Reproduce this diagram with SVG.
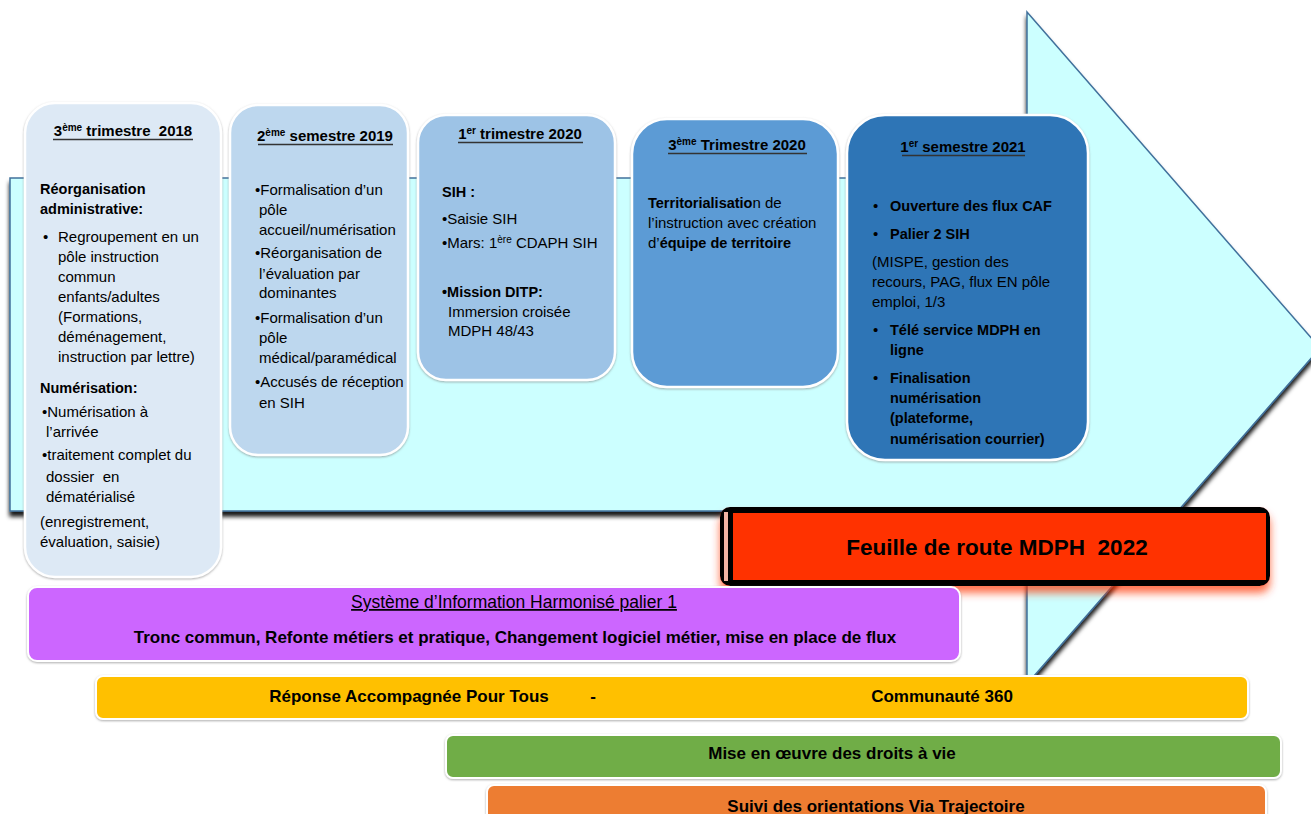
<svg xmlns="http://www.w3.org/2000/svg" width="1311" height="814" viewBox="0 0 1311 814">
<style>
text{font-family:"Liberation Sans",Arial,sans-serif;fill:#000}
.t{font-size:15px}
.b{font-size:14.5px;font-weight:bold}
.h{font-size:15px;font-weight:bold}
.sup{font-size:10px}
.ul{stroke:#333;stroke-width:1.5}
.box{stroke:#fff;stroke-width:2.5;filter:url(#soft)}
.bar{stroke:#fff;stroke-width:2;filter:url(#soft)}
.bt{font-size:17px;font-weight:bold}
</style>
<defs>
<filter id="arrowShadow" x="-5%" y="-5%" width="110%" height="115%">
<feDropShadow dx="0" dy="5" stdDeviation="2" flood-color="#000" flood-opacity="0.9"/>
</filter>
<filter id="soft" x="-10%" y="-10%" width="120%" height="120%">
<feDropShadow dx="0" dy="1" stdDeviation="1.2" flood-color="#777" flood-opacity="0.6"/>
</filter>
<filter id="redGlow" x="-10%" y="-30%" width="120%" height="170%">
<feDropShadow dx="0" dy="7" stdDeviation="4" flood-color="#ff3300" flood-opacity="0.7"/>
</filter>
</defs>

<g id="arrow">
<path d="M10,178 L1027,178 L1027,12 L1320,348 L1027,684 L1027,511 L10,511 Z" fill="#ccffff" stroke="#41719c" stroke-width="1.5" filter="url(#arrowShadow)"/>
</g>

<g id="box1">
<rect class="box" x="25" y="103" width="196" height="474" rx="30" fill="#dde9f5"/>
<text class="h" x="123" y="136" text-anchor="middle" xml:space="preserve">3<tspan class="sup" dy="-5">ème</tspan><tspan dy="5"> trimestre  2018</tspan></text>
<line class="ul" x1="53" y1="139.5" x2="193" y2="139.5"/>
<text class="b" x="40" y="194">Réorganisation</text>
<text class="b" x="40" y="214">administrative:</text>
<text class="t" x="43" y="242">•</text>
<text class="t" x="58" y="242">Regroupement en un</text>
<text class="t" x="58" y="262">pôle instruction</text>
<text class="t" x="58" y="282">commun</text>
<text class="t" x="58" y="302">enfants/adultes</text>
<text class="t" x="58" y="322">(Formations,</text>
<text class="t" x="58" y="342">déménagement,</text>
<text class="t" x="58" y="362">instruction par lettre)</text>
<text class="b" x="40" y="393">Numérisation:</text>
<text class="t" x="42" y="417">•Numérisation à</text>
<text class="t" x="46" y="437">l’arrivée</text>
<text class="t" x="42" y="460">•traitement complet du</text>
<text class="t" x="46" y="482" xml:space="preserve">dossier  en</text>
<text class="t" x="46" y="502">dématérialisé</text>
<text class="t" x="40" y="527">(enregistrement,</text>
<text class="t" x="40" y="547">évaluation, saisie)</text>
</g>

<g id="box2">
<rect class="box" x="230" y="105" width="178" height="350" rx="28" fill="#bdd7ee"/>
<text class="h" x="325" y="141" text-anchor="middle">2<tspan class="sup" dy="-5">ème</tspan><tspan dy="5"> semestre 2019</tspan></text>
<line class="ul" x1="258" y1="144.5" x2="393" y2="144.5"/>
<text class="t" x="255" y="195">•Formalisation d’un</text>
<text class="t" x="259" y="215">pôle</text>
<text class="t" x="259" y="235">accueil/numérisation</text>
<text class="t" x="255" y="258">•Réorganisation de</text>
<text class="t" x="259" y="279">l’évaluation par</text>
<text class="t" x="259" y="298">dominantes</text>
<text class="t" x="255" y="323">•Formalisation d’un</text>
<text class="t" x="259" y="343">pôle</text>
<text class="t" x="259" y="363">médical/paramédical</text>
<text class="t" x="255" y="387">•Accusés de réception</text>
<text class="t" x="259" y="408">en SIH</text>
</g>

<g id="box3">
<rect class="box" x="418" y="115" width="197" height="265" rx="28" fill="#9dc3e6"/>
<text class="h" x="520" y="139" text-anchor="middle">1<tspan class="sup" dy="-5">er</tspan><tspan dy="5"> trimestre 2020</tspan></text>
<line class="ul" x1="458" y1="142.5" x2="583" y2="142.5"/>
<text class="b" x="442" y="197">SIH :</text>
<text class="t" x="442" y="224">•Saisie SIH</text>
<text class="t" x="442" y="248">•Mars: 1<tspan class="sup" dy="-5">ère</tspan><tspan dy="5"> CDAPH SIH</tspan></text>
<text class="b" x="442" y="297">•Mission DITP:</text>
<text class="t" x="448" y="317">Immersion croisée</text>
<text class="t" x="448" y="336">MDPH 48/43</text>
</g>

<g id="box4">
<rect class="box" x="632" y="119" width="206" height="268" rx="35" fill="#5b9bd5"/>
<text class="h" x="737" y="150" text-anchor="middle">3<tspan class="sup" dy="-5">ème</tspan><tspan dy="5"> Trimestre 2020</tspan></text>
<line class="ul" x1="668" y1="153.5" x2="807" y2="153.5"/>
<text class="t" x="648" y="208"><tspan font-weight="bold" font-size="14.5">Territorialisatio</tspan>n de</text>
<text class="t" x="648" y="228">l’instruction avec création</text>
<text class="t" x="648" y="248">d’<tspan font-weight="bold" font-size="14.5">équipe de territoire</tspan></text>
</g>

<g id="box5">
<rect class="box" x="847" y="115" width="241" height="345" rx="38" fill="#2e75b6"/>
<text class="h" x="963" y="152" text-anchor="middle">1<tspan class="sup" dy="-5">er</tspan><tspan dy="5"> semestre 2021</tspan></text>
<line class="ul" x1="902" y1="155.5" x2="1025" y2="155.5"/>
<text class="t" x="873" y="211">•</text>
<text class="b" x="890" y="211">Ouverture des flux CAF</text>
<text class="t" x="873" y="239">•</text>
<text class="b" x="890" y="239">Palier 2 SIH</text>
<text class="t" x="872" y="267">(MISPE, gestion des</text>
<text class="t" x="872" y="287">recours, PAG, flux EN pôle</text>
<text class="t" x="872" y="307">emploi, 1/3</text>
<text class="t" x="873" y="335">•</text>
<text class="b" x="890" y="335">Télé service MDPH en</text>
<text class="b" x="890" y="355">ligne</text>
<text class="t" x="873" y="383">•</text>
<text class="b" x="890" y="383">Finalisation</text>
<text class="b" x="890" y="403">numérisation</text>
<text class="b" x="890" y="423">(plateforme,</text>
<text class="b" x="890" y="444">numérisation courrier)</text>
</g>

<g id="roadmap">
<g filter="url(#redGlow)">
<rect x="720" y="507" width="550" height="79" rx="10" fill="#000"/>
<rect x="724" y="512" width="4" height="69" fill="#f2b4a4"/>
<rect x="733" y="513" width="533" height="67" fill="#ff3300"/>
</g>
<text x="997" y="555" text-anchor="middle" font-size="22.5" font-weight="bold" xml:space="preserve">Feuille de route MDPH  2022</text>
</g>

<g id="sih">
<rect class="bar" x="28" y="587" width="932" height="74" rx="9" fill="#cc66ff"/>
<text x="514" y="608" text-anchor="middle" font-size="17.5" text-decoration="underline">Système d’Information Harmonisé palier 1</text>
<text class="bt" x="515" y="643" text-anchor="middle">Tronc commun, Refonte métiers et pratique, Changement logiciel métier, mise en place de flux</text>
</g>

<g id="rapt">
<rect class="bar" x="96" y="676" width="1152" height="43" rx="7" fill="#ffc000"/>
<text class="bt" x="409" y="702" text-anchor="middle">Réponse Accompagnée Pour Tous</text>
<text class="bt" x="593" y="702" text-anchor="middle">-</text>
<text class="bt" x="942" y="702" text-anchor="middle">Communauté 360</text>
</g>

<g id="droits">
<rect class="bar" x="446" y="735" width="835" height="43" rx="7" fill="#70ad47"/>
<text class="bt" x="832" y="759" text-anchor="middle">Mise en œuvre des droits à vie</text>
</g>

<g id="trajectoire">
<rect class="bar" x="487" y="785" width="779" height="45" rx="7" fill="#ed7d31"/>
<text class="bt" x="876" y="812" text-anchor="middle">Suivi des orientations Via Trajectoire</text>
</g>

<g id="connectors"></g>
</svg>
